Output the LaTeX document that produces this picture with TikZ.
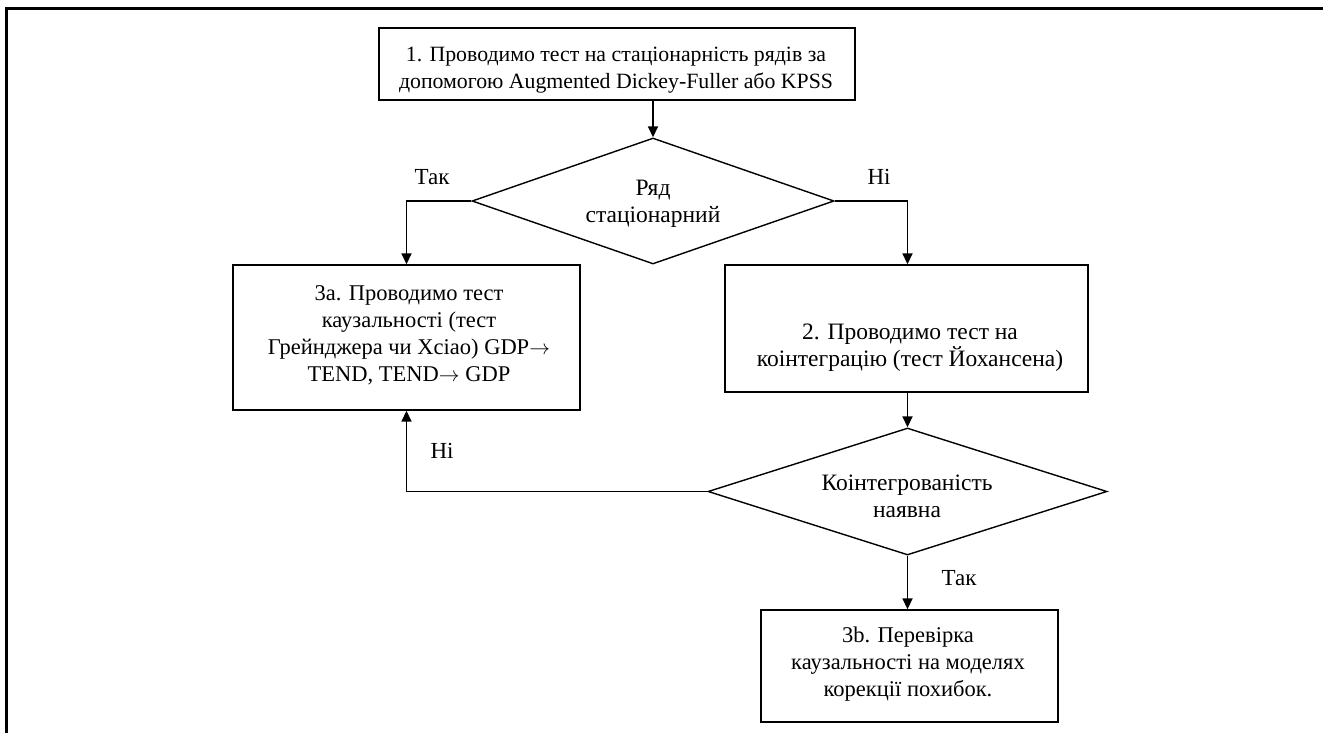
\documentclass[tikz,border=0pt]{standalone}
\usepackage{fontspec}
\setmainfont{Liberation Serif}
\usetikzlibrary{shapes.geometric,arrows.meta}
\newcommand\causes{\ensuremath{\rightarrow}}
\begin{document}
\begin{tikzpicture}[x=1pt,y=-1pt,
  box/.style={draw, rectangle, line width=1.4pt, inner sep=0pt},
  dec/.style={draw, diamond, line width=1.4pt, inner sep=0pt},
  txt/.style={align=center, inner sep=0pt, font=\fontsize{22.5}{27}\selectfont},
  lbl/.style={inner sep=0pt, font=\fontsize{23}{27}\selectfont},
  link/.style={line width=1.7pt, -{Triangle[length=11pt,width=10pt]}}]
\useasboundingbox (0,0) rectangle (1323,733);

% page frame
\draw[line width=3pt] (6.5,733) -- (6.5,8.5) -- (1323,8.5);

% shapes
\node[box, minimum width=476pt, minimum height=72pt] (b1) at (617,64) {};
\node[dec, minimum width=362pt, minimum height=126pt] (d1) at (653,201) {};
\node[box, minimum width=347pt, minimum height=145pt] (b3a) at (406.5,337.5) {};
\node[box, minimum width=363pt, minimum height=127pt] (b2) at (906.5,328.5) {};
\node[dec, minimum width=399pt, minimum height=127pt] (d2) at (907.5,491.5) {};
\node[box, minimum width=297pt, minimum height=112pt] (b3b) at (909.5,666) {};

% texts
\node[txt, font=\fontsize{21.8}{27}\selectfont] (t1) at (616,70) {1. Проводимо тест на стаціонарність рядів за\\допомогою Augmented Dickey-Fuller або KPSS};
\node[txt, font=\fontsize{23.5}{27}\selectfont] (td1) at (653,204) {Ряд\\стаціонарний};
\node[txt] (t3a) at (409,335) {3а. Проводимо тест\\каузальності (тест\\Грейнджера чи Хсіао) GDP\causes\\TEND, TEND\causes{} GDP};
\node[txt, font=\fontsize{23.5}{27}\selectfont] (t2) at (910,348) {2. Проводимо тест на\\коінтеграцію (тест Йохансена)};
\node[txt, font=\fontsize{23.5}{27}\selectfont] (td2) at (907,496) {Коінтегрованість\\наявна};
\node[txt] (t3b) at (908,664) {3b. Перевірка\\каузальності на моделях\\корекції похибок.};

% branch labels
\node[lbl, anchor=base] (yes1) at (432,185) {Так};
\node[lbl, anchor=base] (no1) at (879,185) {Ні};
\node[lbl, anchor=base] (no2) at (442,458) {Ні};
\node[lbl, anchor=base] (yes2) at (959,585) {Так};

% connectors
\draw[link] (d1.north |- b1.south) -- (d1.north);
\draw[link] (d1.west) -| (b3a.north);
\draw[link] (d1.east) -| (d2.north |- b2.north);
\draw[link] (d2.north |- b2.south) -- (d2.north);
\draw[link] (d2.west) -| (b3a.south);
\draw[link] (d2.south) -- (d2.south |- b3b.north);
\end{tikzpicture}
\end{document}
